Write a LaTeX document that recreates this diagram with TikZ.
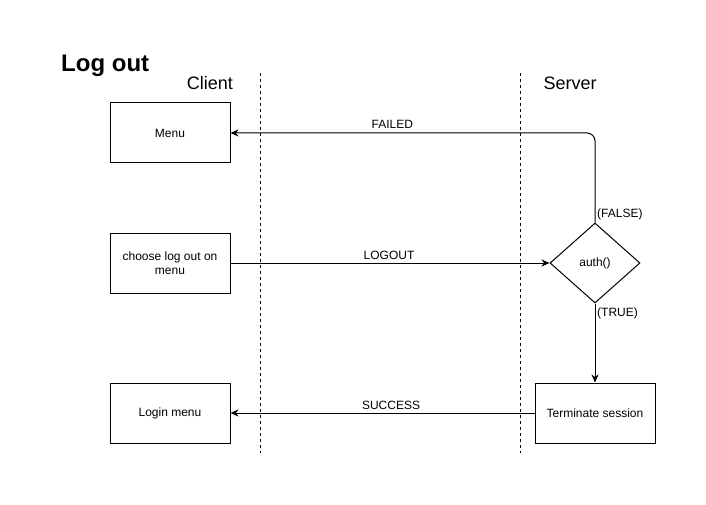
\documentclass[tikz,border=0pt]{standalone}
\usepackage{fontspec}
\setmainfont{Liberation Sans}
\usetikzlibrary{arrows.meta,shapes.geometric}

\tikzset{
  box/.style={draw, line width=1pt, minimum width=120pt, minimum height=60pt,
    align=center, inner sep=0pt, font=\fontsize{12}{14}\selectfont},
  lab/.style={font=\fontsize{12}{14}\selectfont},
  msg/.style={line width=1pt, -{Stealth[length=8pt,width=7pt]}},
  lifeline/.style={line width=0.8pt, dash pattern=on 3pt off 3pt},
}

\begin{document}
\begin{tikzpicture}[x=1pt,y=-1pt]
            \useasboundingbox (0,0) rectangle (706,505);
            \node[anchor=base west, inner sep=0pt, font=\fontsize{24}{28}\selectfont\bfseries] (title) at (61,72) {Log out};
            \node[font=\fontsize{18}{22}\selectfont] (client) at (210,83) {Client};
            \node[font=\fontsize{18}{22}\selectfont] (server) at (570,83) {Server};
            \draw[lifeline] (260,73) -- (260,453);
            \draw[lifeline] (520,73) -- (520,453);
            \node[box] (menu) at (170,133) {Menu};
            \node[box] (choose) at (170,263) {choose log out on\\menu};
            \node[box] (login) at (170,413) {Login menu};
            \node[box] (terminate) at (595,413) {Terminate session};
            \node[draw, line width=1pt, diamond, minimum width=90pt, minimum height=80pt,
                  inner sep=0pt, lab] (auth) at (595,263) {auth()};
            \draw[msg] (choose.east) -- (auth.west) node[lab, midway, above=0pt, xshift=-1pt] {LOGOUT};
            \draw[msg, rounded corners=8pt] (auth.north) |- (menu.east)
                node[lab, pos=0.778, above=1pt] {FAILED};
            \draw[msg] (auth.south) -- (terminate.north);
            \draw[msg] (terminate.west) -- (login.east) node[lab, pos=0.472, above=0pt] {SUCCESS};
            \node[lab, anchor=west, inner sep=1pt] (false) at (596,214) {(FALSE)};
            \node[lab, anchor=west, inner sep=1pt] (true) at (596,313) {(TRUE)};
\end{tikzpicture}
\end{document}
